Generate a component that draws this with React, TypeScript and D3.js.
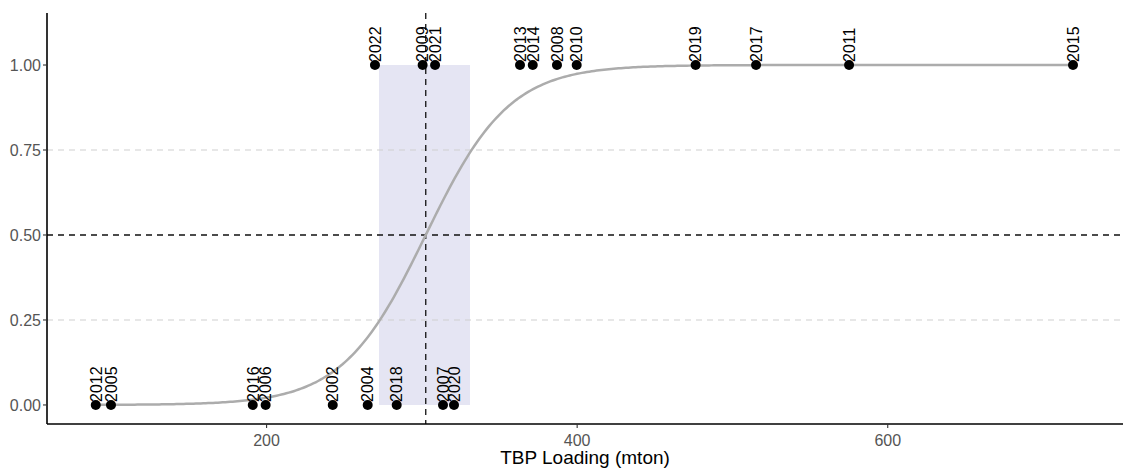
import React from "react";
import * as d3 from "d3";

const years = [
  "2012", "2005", "2016", "2006", "2002", "2004", "2018", "2007", "2020",
  "2022", "2009", "2021", "2013", "2014", "2008", "2010", "2019", "2017", "2011", "2015",
];
const loadings = [
  90.0, 99.8, 191.1, 199.4, 242.6, 265.1, 283.8, 313.6, 320.7,
  269.8, 300.5, 308.5, 363.2, 371.4, 387.0, 399.7, 476.3, 515.2, 575.1, 719.3,
];
const outcomes = [0, 0, 0, 0, 0, 0, 0, 0, 0, 1, 1, 1, 1, 1, 1, 1, 1, 1, 1, 1];

// fitted logistic model
const midpoint = 302.5;
const slope = 0.0372;
// confidence band for the threshold
const bandLow = 272.4;
const bandHigh = 331.0;

const xTicks = [200, 400, 600];
const yTicks = [0, 0.25, 0.5, 0.75, 1];
const greyLines = [0.25, 0.75];

const W = 1125;
const H = 472;
const left = 47;
const right = 1123;
const top = 13;
const bottom = 424;

export default function App() {
  const x = d3.scaleLinear().domain([58.6, 751.5]).range([left, right]);
  const y = d3.scaleLinear().domain([-0.056, 1.153]).range([bottom, top]);
  const font = "'Liberation Sans', Arial, Helvetica, sans-serif";

  const xmin = d3.min(loadings) as number;
  const xmax = d3.max(loadings) as number;
  const curvePts = d3.range(0, 401).map((i) => {
    const v = xmin + ((xmax - xmin) * i) / 400;
    return [v, 1 / (1 + Math.exp(-slope * (v - midpoint)))] as [number, number];
  });
  const line = d3
    .line<[number, number]>()
    .x((d) => x(d[0]))
    .y((d) => y(d[1]))
    .curve(d3.curveLinear);

  return (
    <svg
      width={W}
      height={H}
      style={{ position: "absolute", left: 0, top: 0, background: "#fff" }}
      fontFamily={font}
    >
      <rect x={0} y={0} width={W} height={H} fill="#fff" />
      <rect
        x={x(bandLow)}
        y={y(1)}
        width={x(bandHigh) - x(bandLow)}
        height={y(0) - y(1)}
        fill="#e5e5f3"
      />
      {greyLines.map((g) => (
        <line
          key={g}
          x1={left}
          x2={right}
          y1={y(g)}
          y2={y(g)}
          stroke="#cfcfcf"
          strokeWidth={1.2}
          strokeDasharray="6,5"
        />
      ))}
      <line
        x1={left}
        x2={right}
        y1={y(0.5)}
        y2={y(0.5)}
        stroke="#111"
        strokeWidth={1.3}
        strokeDasharray="6,5"
      />
      <line
        x1={x(midpoint)}
        x2={x(midpoint)}
        y1={top}
        y2={bottom}
        stroke="#111"
        strokeWidth={1.3}
        strokeDasharray="6,5"
      />
      <path d={line(curvePts) || ""} fill="none" stroke="#acacac" strokeWidth={2.5} />
      {loadings.map((v, i) => (
        <circle key={"p" + i} cx={x(v)} cy={y(outcomes[i])} r={5} fill="#000" />
      ))}
      {loadings.map((v, i) => (
        <text
          key={"t" + i}
          transform={`translate(${x(v)},${y(outcomes[i]) - 3}) rotate(-90)`}
          dy="0.36em"
          fontSize={16}
          fill="#000"
        >
          {years[i]}
        </text>
      ))}
      {/* axes */}
      <line x1={left} x2={left} y1={top} y2={bottom} stroke="#000" strokeWidth={1.6} />
      <line x1={left} x2={right} y1={bottom} y2={bottom} stroke="#000" strokeWidth={1.6} />
      {yTicks.map((t) => (
        <g key={"y" + t}>
          <line x1={left - 4} x2={left} y1={y(t)} y2={y(t)} stroke="#333" strokeWidth={1.1} />
          <text
            x={left - 6}
            y={y(t)}
            dy="0.35em"
            textAnchor="end"
            fontSize={16}
            fill="#555"
          >
            {t.toFixed(2)}
          </text>
        </g>
      ))}
      {xTicks.map((t) => (
        <g key={"x" + t}>
          <line x1={x(t)} x2={x(t)} y1={bottom} y2={bottom + 4} stroke="#333" strokeWidth={1.1} />
          <text x={x(t)} y={bottom + 16} dy="0.35em" textAnchor="middle" fontSize={16} fill="#555">
            {t}
          </text>
        </g>
      ))}
      <text
        x={(left + right) / 2}
        y={457}
        dy="0.35em"
        textAnchor="middle"
        fontSize={19}
        fill="#000"
      >
        TBP Loading (mton)
      </text>
    </svg>
  );
}
